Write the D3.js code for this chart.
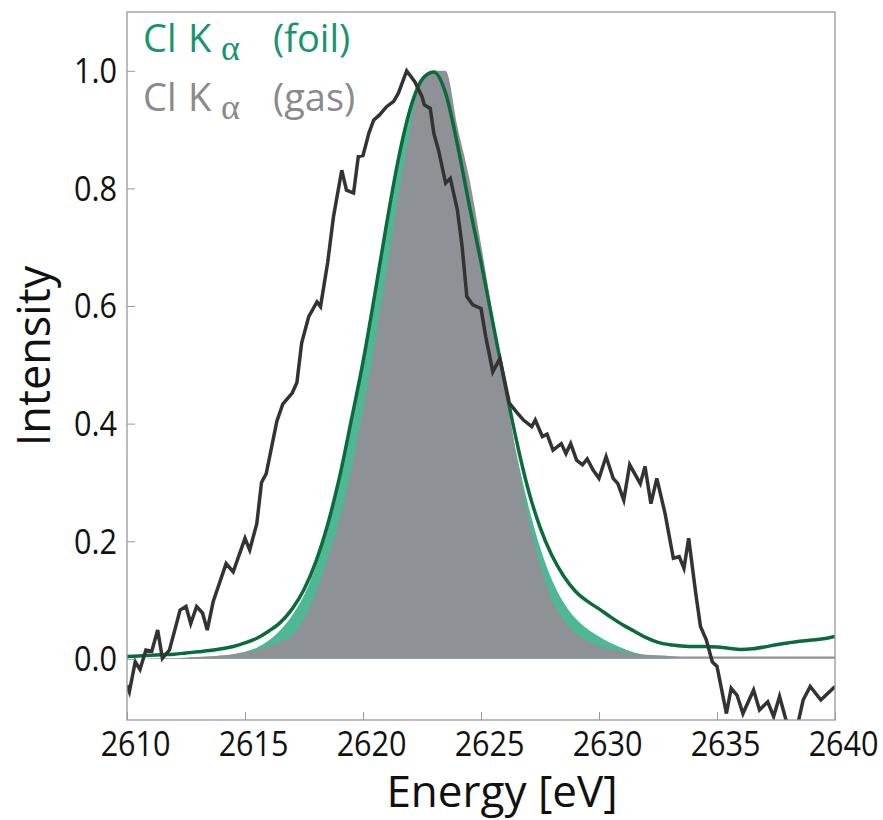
<!DOCTYPE html>
<html>
<head>
<meta charset="utf-8">
<script src="https://cdn.jsdelivr.net/npm/d3@7/dist/d3.min.js"></script>
<style>
  html, body { margin: 0; padding: 0; background: #ffffff; }
  svg { display: block; font-family: "Open Sans", "Noto Sans", sans-serif; }
</style>
</head>
<body>
<svg id="chart" width="883" height="820"></svg>
<script>
// Energy grid (eV) shared by the smooth Kα profiles
const energyGrid = [
  2610, 2610.5, 2611, 2611.5, 2612, 2612.5, 2613, 2613.5, 2614, 2614.5,
  2615, 2615.5, 2616, 2616.5, 2617, 2617.5, 2618, 2618.5, 2619, 2619.5,
  2620, 2620.5, 2621, 2621.5, 2622, 2622.5, 2623, 2623.5, 2624, 2624.5,
  2625, 2625.5, 2626, 2626.5, 2627, 2627.5, 2628, 2628.5, 2629, 2629.5,
  2630, 2630.5, 2631, 2631.5, 2632, 2632.5, 2633, 2633.5, 2634, 2634.5,
  2635, 2635.5, 2636, 2636.5, 2637, 2637.5, 2638, 2638.5, 2639, 2639.5,
  2640
];

// Cl Kα from the foil: outline
const foilLine = [
  0.004, 0.005, 0.006, 0.007, 0.008, 0.010, 0.012, 0.014, 0.017, 0.021,
  0.027, 0.035, 0.047, 0.062, 0.085, 0.118, 0.165, 0.228, 0.308, 0.405,
  0.505, 0.620, 0.740, 0.850, 0.935, 0.985, 0.998, 0.962, 0.875, 0.772,
  0.675, 0.572, 0.470, 0.372, 0.288, 0.224, 0.176, 0.141, 0.115, 0.098,
  0.085, 0.071, 0.058, 0.047, 0.036, 0.028, 0.024, 0.022, 0.021, 0.021,
  0.020, 0.018, 0.016, 0.017, 0.020, 0.024, 0.027, 0.030, 0.032, 0.034,
  0.038
];

// Cl Kα from the foil: filled profile
const foilFill = [
  0.000, 0.000, 0.000, 0.001, 0.001, 0.002, 0.003, 0.004, 0.005, 0.008,
  0.012, 0.019, 0.031, 0.049, 0.074, 0.108, 0.157, 0.222, 0.300, 0.396,
  0.498, 0.614, 0.735, 0.846, 0.932, 0.983, 0.996, 0.958, 0.868, 0.762,
  0.660, 0.555, 0.450, 0.350, 0.262, 0.190, 0.135, 0.096, 0.069, 0.051,
  0.038, 0.027, 0.018, 0.011, 0.006, 0.003, 0.001, 0.000, 0.000, 0.000,
  0.000, 0.000, 0.000, 0.000, 0.000, 0.000, 0.000, 0.000, 0.000, 0.000,
  0.000
];

// Cl Kα from the gas phase: filled profile
const gasFill = [
  0.000, 0.000, 0.001, 0.001, 0.001, 0.002, 0.003, 0.004, 0.006, 0.008,
  0.011, 0.015, 0.021, 0.029, 0.040, 0.068, 0.113, 0.170, 0.236, 0.322,
  0.422, 0.536, 0.660, 0.788, 0.900, 0.990, 1.000, 1.000, 0.905, 0.818,
  0.705, 0.585, 0.470, 0.345, 0.240, 0.160, 0.100, 0.066, 0.044, 0.031,
  0.022, 0.016, 0.012, 0.009, 0.007, 0.006, 0.005, 0.004, 0.004, 0.004,
  0.004, 0.004, 0.004, 0.004, 0.004, 0.004, 0.004, 0.004, 0.004, 0.004,
  0.004
];

// Measured spectrum (noisy trace)
const traceEnergy = [
  2610.0, 2610.1, 2610.35, 2610.55, 2610.8, 2611.05, 2611.3, 2611.5, 2611.8, 2612.25,
  2612.5, 2612.7, 2612.95, 2613.2, 2613.4, 2613.65, 2614.2, 2614.5, 2615.0, 2615.2,
  2615.5, 2615.7, 2615.9, 2616.35, 2616.6, 2617.0, 2617.2, 2617.4, 2617.7, 2618.05,
  2618.2, 2618.5, 2618.75, 2619.1, 2619.3, 2619.6, 2619.8, 2620.0, 2620.25, 2620.45,
  2620.7, 2621.0, 2621.3, 2621.5, 2621.85, 2622.2, 2622.5, 2622.6, 2622.85, 2623.0,
  2623.2, 2623.5, 2623.7, 2624.0, 2624.2, 2624.4, 2624.65, 2625.0, 2625.2, 2625.5,
  2625.8, 2626.2, 2626.5, 2626.8, 2627.15, 2627.3, 2627.6, 2627.8, 2628.05, 2628.4,
  2628.6, 2628.8, 2629.05, 2629.3, 2629.5, 2629.75, 2630.0, 2630.3, 2630.6, 2630.8,
  2631.05, 2631.3, 2631.75, 2631.95, 2632.2, 2632.45, 2632.8, 2633.15, 2633.4, 2633.6,
  2633.8, 2634.1, 2634.3, 2634.55, 2634.8, 2635.0, 2635.4, 2635.6, 2635.85, 2636.1,
  2636.55, 2636.8, 2637.15, 2637.4, 2637.65, 2638.0, 2638.4, 2638.65, 2638.95, 2639.4,
  2640.0
];
const traceIntensity = [
  -0.045, -0.056, -0.005, -0.018, 0.015, 0.013, 0.049, 0.001, 0.015, 0.083,
  0.089, 0.060, 0.089, 0.078, 0.049, 0.097, 0.162, 0.148, 0.205, 0.185,
  0.230, 0.300, 0.315, 0.404, 0.433, 0.452, 0.470, 0.537, 0.582, 0.607,
  0.599, 0.673, 0.752, 0.831, 0.797, 0.792, 0.854, 0.856, 0.894, 0.916,
  0.925, 0.939, 0.948, 0.962, 1.000, 0.981, 0.956, 0.942, 0.936, 0.894,
  0.865, 0.809, 0.817, 0.763, 0.701, 0.616, 0.602, 0.596, 0.548, 0.488,
  0.511, 0.435, 0.420, 0.406, 0.395, 0.406, 0.378, 0.382, 0.355, 0.366,
  0.349, 0.366, 0.338, 0.330, 0.340, 0.321, 0.307, 0.344, 0.307, 0.298,
  0.270, 0.330, 0.298, 0.327, 0.264, 0.307, 0.247, 0.171, 0.174, 0.154,
  0.205, 0.111, 0.055, 0.032, -0.005, -0.013, -0.093, -0.050, -0.062, -0.093,
  -0.053, -0.087, -0.073, -0.098, -0.064, -0.115, -0.115, -0.070, -0.047, -0.070,
  -0.047
];

const xTicks = [2610, 2615, 2620, 2625, 2630, 2635, 2640];
const yTicks = [0.0, 0.2, 0.4, 0.6, 0.8, 1.0];

const legendLabels = ["(foil)", "(gas)"];

const colors = {
  foilLine: "#0c6b3c",
  foilFill: "#4db893",
  gasFill: "#8e9296",
  trace: "#333333",
  foilText: "#1a9470",
  gasText: "#8a8a8a",
  frame: "#999999",
  text: "#111111"
};

const plot = { left: 127, right: 835, top: 12, bottom: 720 };

const svg = d3.select("#chart");

const x = d3.scaleLinear().domain([2610, 2640]).range([plot.left, plot.right]);
const y = d3.scaleLinear().domain([-0.104, 1.1]).range([plot.bottom, plot.top]);

svg.append("defs").append("clipPath").attr("id", "plot-clip")
  .append("rect")
  .attr("x", plot.left).attr("y", plot.top)
  .attr("width", plot.right - plot.left).attr("height", plot.bottom - plot.top);

const profile = energyGrid.map((e, i) => ({ e, line: foilLine[i], foil: foilFill[i], gas: gasFill[i] }));
const trace = traceEnergy.map((e, i) => ({ e, v: traceIntensity[i] }));

const layer = svg.append("g").attr("clip-path", "url(#plot-clip)");

// Foil profile fill (behind), gas profile fill on top of it
layer.append("path")
  .datum(profile)
  .attr("fill", colors.foilFill)
  .attr("d", d3.area().curve(d3.curveMonotoneX)
    .x(d => x(d.e)).y0(y(0)).y1(d => y(d.foil)));

layer.append("path")
  .datum(profile)
  .attr("fill", colors.gasFill)
  .attr("d", d3.area().curve(d3.curveMonotoneX)
    .x(d => x(d.e)).y0(y(0)).y1(d => y(d.gas)));

// Foil outline
layer.append("path")
  .datum(profile)
  .attr("fill", "none")
  .attr("stroke", colors.foilLine)
  .attr("stroke-width", 3.5)
  .attr("stroke-linejoin", "round")
  .attr("d", d3.line().curve(d3.curveMonotoneX)
    .x(d => x(d.e)).y(d => y(d.line)));

// Noisy measured trace
layer.append("path")
  .datum(trace)
  .attr("fill", "none")
  .attr("stroke", colors.trace)
  .attr("stroke-width", 3.5)
  .attr("stroke-linejoin", "miter")
  .attr("d", d3.line().x(d => x(d.e)).y(d => y(d.v)));

// Axes with inward ticks
const xAxis = svg.append("g")
  .attr("transform", `translate(0,${plot.bottom})`)
  .call(d3.axisBottom(x).tickValues(xTicks).tickSize(-8).tickFormat(d3.format("d")));
xAxis.select(".domain").remove();
xAxis.selectAll(".tick line").attr("stroke", colors.frame).attr("stroke-width", 1);
xAxis.selectAll(".tick text")
  .attr("font-family", "'Open Sans', sans-serif")
  .attr("font-size", 34)
  .attr("fill", colors.text)
  .attr("y", 36).attr("dy", 0).attr("x", 9)
  .attr("transform", "scale(0.9,1)");

const yAxis = svg.append("g")
  .attr("transform", `translate(${plot.left},0)`)
  .call(d3.axisLeft(y).tickValues(yTicks).tickSize(-8).tickFormat(d3.format(".1f")));
yAxis.select(".domain").remove();
yAxis.selectAll(".tick line").attr("stroke", colors.frame).attr("stroke-width", 1);
yAxis.selectAll(".tick text")
  .attr("font-family", "'Open Sans', sans-serif")
  .attr("font-size", 34)
  .attr("fill", colors.text)
  .attr("x", -11).attr("dy", "0.35em")
  .attr("transform", "scale(0.9,1)");

// Frame
svg.append("rect")
  .attr("x", plot.left).attr("y", plot.top)
  .attr("width", plot.right - plot.left).attr("height", plot.bottom - plot.top)
  .attr("fill", "none").attr("stroke", colors.frame).attr("stroke-width", 1.3);

// Axis titles
svg.append("text")
  .attr("x", 502).attr("y", 807)
  .attr("text-anchor", "middle")
  .attr("font-size", 44)
  .attr("fill", colors.text)
  .text("Energy [eV]");

svg.append("text")
  .attr("transform", "translate(50,356) rotate(-90)")
  .attr("text-anchor", "middle")
  .attr("font-size", 45)
  .attr("fill", colors.text)
  .text("Intensity");

// Legend
const legendRows = [
  { label: legendLabels[0], color: colors.foilText, baseline: 52 },
  { label: legendLabels[1], color: colors.gasText, baseline: 111 }
];
legendRows.forEach(r => {
  const t = svg.append("text").attr("y", r.baseline).attr("fill", r.color).attr("font-size", 38);
  t.append("tspan").attr("x", 143).text("Cl");
  t.append("tspan").attr("x", 188).text("K");
  t.append("tspan").attr("x", 221).attr("y", r.baseline + 8)
    .attr("font-family", "'Liberation Serif', serif").attr("font-size", 36).text("α");
  t.append("tspan").attr("x", 273).attr("y", r.baseline).text(r.label);
});
</script>
</body>
</html>
